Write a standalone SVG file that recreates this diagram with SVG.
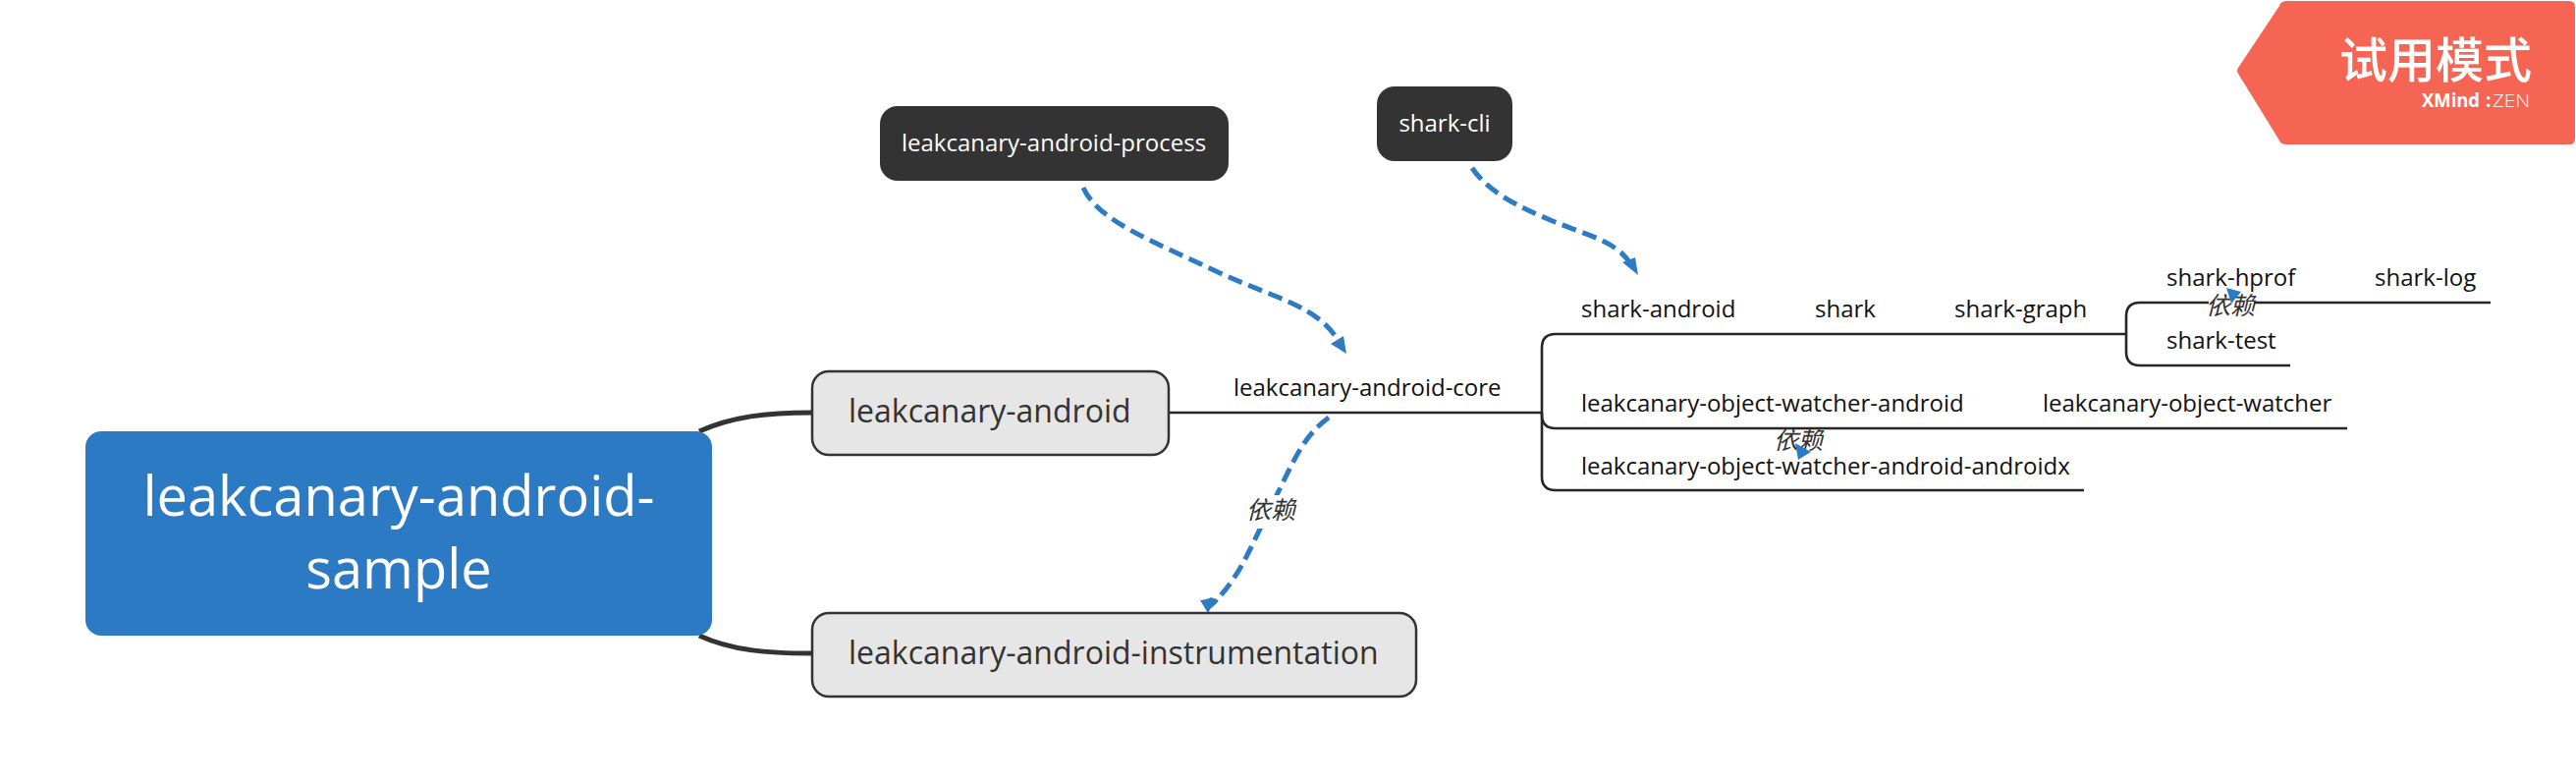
<svg xmlns="http://www.w3.org/2000/svg" width="2623" height="797" viewBox="0 0 2623 797">
<style>
text{font-family:"Open Sans","Noto Sans","Noto Sans CJK SC",sans-serif}
.sub{font-size:24px;fill:#111}
.main{font-size:32px;fill:#333}
.box{fill:#e6e6e6;stroke:#333;stroke-width:2.500}
.fl{fill:#333}
.flt{font-size:24px;fill:#fff;text-anchor:middle}
.ln{fill:none;stroke:#262626;stroke-width:2.600}
.th{fill:none;stroke:#333;stroke-width:5}
.rel{fill:none;stroke:#2c7bc4;stroke-width:5;stroke-dasharray:15 7}
.ah{fill:#2c7bc4}
.lab{font-size:25px;font-style:italic;fill:#333;text-anchor:middle;font-family:"Noto Sans CJK SC",sans-serif}
</style>
<rect width="2623" height="797" fill="#fff"/>
<g id="connectors">
<path class="th" d="M712 439C745 424 780 420 827 420"/>
<path class="th" d="M712 647C745 662 780 665 827 665"/>
<path class="ln" d="M1190 420H1570"/>
<path class="ln" d="M1570 420V354Q1570 340 1584 340H2165"/>
<path class="ln" d="M1570 420V422Q1570 436 1584 436H2390"/>
<path class="ln" d="M1570 420V485Q1570 499 1584 499H2122"/>
<path class="ln" d="M2165 340V322Q2165 308 2179 308H2536"/>
<path class="ln" d="M2165 340V358Q2165 372 2179 372H2332"/>
<path class="rel" d="M1103 191C1118 225 1175 246 1236 275S1342 310 1364 349"/>
<path class="rel" d="M1499 171C1515 195 1545 210 1581 225S1645 245 1660 268"/>
<path class="rel" d="M1353 425C1325 445 1315 475 1294 516S1262 590 1232 617"/>
<polygon class="ah" points="1371,360 1355,350 1368,342"/>
<polygon class="ah" points="1668,280 1652,267 1665,262"/>
<path class="ah" d="M1230 624L1222 611Q1230 610 1233 608L1241 611Q1234 616 1230 624Z"/>
</g>
<g id="root"><rect x="87" y="439" width="638" height="208" rx="16" fill="#2c7ac3"/>
<text x="406" y="525" font-size="56" fill="#fff" text-anchor="middle">leakcanary-android-</text>
<text x="406" y="599" font-size="56" fill="#fff" text-anchor="middle">sample</text></g>
<g id="n-android"><rect class="box" x="827" y="378" width="363" height="85" rx="17"/><text class="main" x="864" y="430">leakcanary-android</text></g>
<g id="n-instr"><rect class="box" x="827" y="624" width="615" height="85" rx="17"/><text class="main" x="864" y="676">leakcanary-android-instrumentation</text></g>
<g id="n-process"><rect class="fl" x="896" y="108" width="355" height="76" rx="18"/><text class="flt" x="1073" y="154">leakcanary-android-process</text></g>
<g id="n-cli"><rect class="fl" x="1402" y="88" width="138" height="76" rx="18"/><text class="flt" x="1471" y="134">shark-cli</text></g>
<g id="n-core"><text class="sub" x="1256" y="403">leakcanary-android-core</text></g>
<g id="n-sa"><text class="sub" x="1610" y="323">shark-android</text></g>
<g id="n-s"><text class="sub" x="1848" y="323">shark</text></g>
<g id="n-sg"><text class="sub" x="1990" y="323">shark-graph</text></g>
<g id="n-sh"><text class="sub" x="2206" y="291">shark-hprof</text></g>
<g id="n-sl"><text class="sub" x="2418" y="291">shark-log</text></g>
<g id="n-st"><text class="sub" x="2206" y="355">shark-test</text></g>
<g id="n-owa"><text class="sub" x="1610" y="419">leakcanary-object-watcher-android</text></g>
<g id="n-ow"><text class="sub" x="2080" y="419">leakcanary-object-watcher</text></g>
<g id="n-owx"><text class="sub" x="1610" y="483">leakcanary-object-watcher-android-androidx</text></g>
<g id="labels">
<rect x="1262" y="504" width="62" height="34" fill="#fff"/>
<text class="lab" x="1294" y="528">依赖</text>
<rect x="2249" y="300" width="46" height="24" fill="#fff"/>
<text class="lab" x="2271" y="320">依赖</text>
<polygon class="ah" points="2267,293 2282,297 2272,309"/>
<text class="lab" x="1831" y="457">依赖</text>
<polygon class="ah" points="1828,451 1844,460 1831,468"/>
</g>
<g id="watermark">
<path d="M2321 6Q2322 1 2329 1H2616Q2622 1 2622 7V141Q2622 147 2616 147H2329Q2322 147 2321 143L2279 75Q2277 72 2279 69Z" fill="#f66553"/>
<text x="2382" y="79" font-size="49" font-weight="500" fill="#fff" font-family="Noto Sans CJK SC">试用模式</text>
<text x="2466" y="109" font-size="19" font-weight="700" fill="#fff" font-family="Inter" textLength="59" lengthAdjust="spacingAndGlyphs">XMind</text>
<text x="2531" y="109" font-size="19" font-weight="700" fill="#fff" font-family="Inter">:</text>
<text x="2538" y="109" font-size="19" font-weight="200" fill="#fff" font-family="Inter" textLength="38" lengthAdjust="spacingAndGlyphs">ZEN</text>
</g>
</svg>
